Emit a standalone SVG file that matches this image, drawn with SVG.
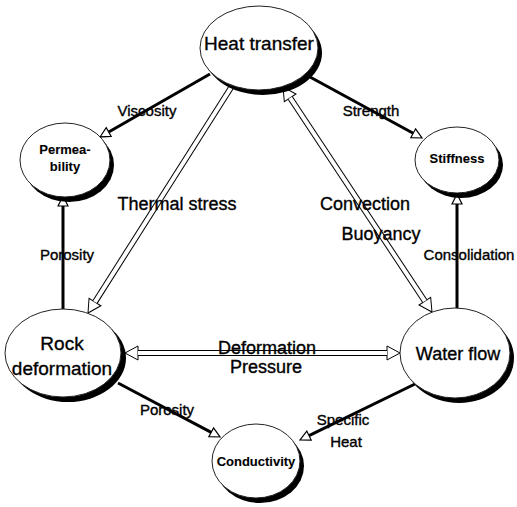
<svg xmlns="http://www.w3.org/2000/svg" width="517" height="507" viewBox="0 0 517 507">
<style>
  text { font-family: "Liberation Sans", Arial, sans-serif; fill: #000; stroke: #000; stroke-width: 0.35; text-anchor: middle; }
  .shadow { fill: #000; }
  .body { fill: #fff; stroke: #222; stroke-width: 1; }
  .big { font-size: 19px; }
  .mid { font-size: 18px; }
  .small { font-size: 13px; font-weight: bold; stroke-width: 0.1; }
  .elbl { font-size: 15px; }
  .single { fill: none; stroke: #000; stroke-width: 3; marker-end: url(#ah); }
  .dblOuter { fill: none; stroke: #000; stroke-width: 6; }
  .dblInner { fill: none; stroke: #fff; stroke-width: 4; }
</style>
<defs>
  <marker id="ah" markerUnits="userSpaceOnUse" viewBox="-1 -7 14 14" refX="0" refY="0" markerWidth="14" markerHeight="14" orient="auto">
    <path d="M0,-5 L10,0 L0,5 Z" fill="#fff" stroke="#000" stroke-width="1.2"/>
  </marker>
  <marker id="bh" markerUnits="userSpaceOnUse" viewBox="-1 -9 17 18" refX="0" refY="0" markerWidth="17" markerHeight="18" orient="auto-start-reverse">
    <path d="M0,-7 L13,0 L0,7 Z" fill="#fff" stroke="#000" stroke-width="1"/>
  </marker>
</defs>
<rect width="517" height="507" fill="#fff"/>

<g id="connectors">
  <line class="single" x1="210" y1="74" x2="108.7" y2="132"/>
  <line class="single" x1="310" y1="77" x2="413.2" y2="133.2"/>
  <line class="single" x1="63" y1="310" x2="63" y2="206"/>
  <line class="single" x1="457" y1="309" x2="457" y2="204"/>
  <line class="single" x1="118" y1="383" x2="211.2" y2="432.3"/>
  <line class="single" x1="415" y1="384" x2="309" y2="435.6"/>

  <line class="dblOuter" x1="232" y1="86" x2="94.96" y2="302.02" marker-end="url(#bh)"/>
  <line class="dblInner" x1="232" y1="86" x2="94.96" y2="302.02"/>

  <line class="dblOuter" x1="290.18" y1="97.84" x2="424.82" y2="301.16" marker-start="url(#bh)" marker-end="url(#bh)"/>
  <line class="dblInner" x1="290.18" y1="97.84" x2="424.82" y2="301.16"/>

  <line class="dblOuter" x1="138" y1="353" x2="387" y2="353" marker-start="url(#bh)" marker-end="url(#bh)"/>
  <line class="dblInner" x1="138" y1="353" x2="387" y2="353"/>

  <text class="elbl" x="147" y="116">Viscosity</text>
  <text class="elbl" x="371" y="116">Strength</text>
  <text class="mid" x="177" y="210">Thermal stress</text>
  <text class="mid" x="365" y="210">Convection</text>
  <text class="mid" x="381" y="240">Buoyancy</text>
  <text class="elbl" x="67" y="260">Porosity</text>
  <text class="elbl" x="469" y="260">Consolidation</text>
  <text class="mid" x="267" y="354">Deformation</text>
  <text class="mid" x="266" y="373">Pressure</text>
  <text class="elbl" x="167" y="415">Porosity</text>
  <text class="elbl" x="343" y="425">Specific</text>
  <text class="elbl" x="346" y="447">Heat</text>
</g>

<g id="heat-transfer">
  <ellipse class="shadow" cx="263" cy="53" rx="59" ry="42"/>
  <ellipse class="body" cx="259" cy="48" rx="59" ry="42"/>
  <text class="big" x="259" y="50">Heat transfer</text>
</g>

<g id="permeability">
  <ellipse class="shadow" cx="69" cy="165" rx="45" ry="37"/>
  <ellipse class="body" cx="65" cy="160" rx="45" ry="37"/>
  <text class="small" x="65" y="154">Permea-</text>
  <text class="small" x="65" y="171">bility</text>
</g>

<g id="stiffness">
  <ellipse class="shadow" cx="461" cy="165" rx="42" ry="33"/>
  <ellipse class="body" cx="457" cy="160" rx="42" ry="33"/>
  <text class="small" x="457" y="163">Stiffness</text>
</g>

<g id="rock-deformation">
  <ellipse class="shadow" cx="68" cy="358" rx="58" ry="44"/>
  <ellipse class="body" cx="63" cy="353" rx="58" ry="44"/>
  <text class="big" x="62" y="350">Rock</text>
  <text class="big" x="62" y="375">deformation</text>
</g>

<g id="water-flow">
  <ellipse class="shadow" cx="459" cy="358" rx="55" ry="45"/>
  <ellipse class="body" cx="455" cy="353" rx="55" ry="45"/>
  <text class="mid" x="458" y="360">Water flow</text>
</g>

<g id="conductivity">
  <ellipse class="shadow" cx="260" cy="466" rx="44" ry="37"/>
  <ellipse class="body" cx="256" cy="461" rx="44" ry="37"/>
  <text class="small" x="256" y="466">Conductivity</text>
</g>
</svg>
